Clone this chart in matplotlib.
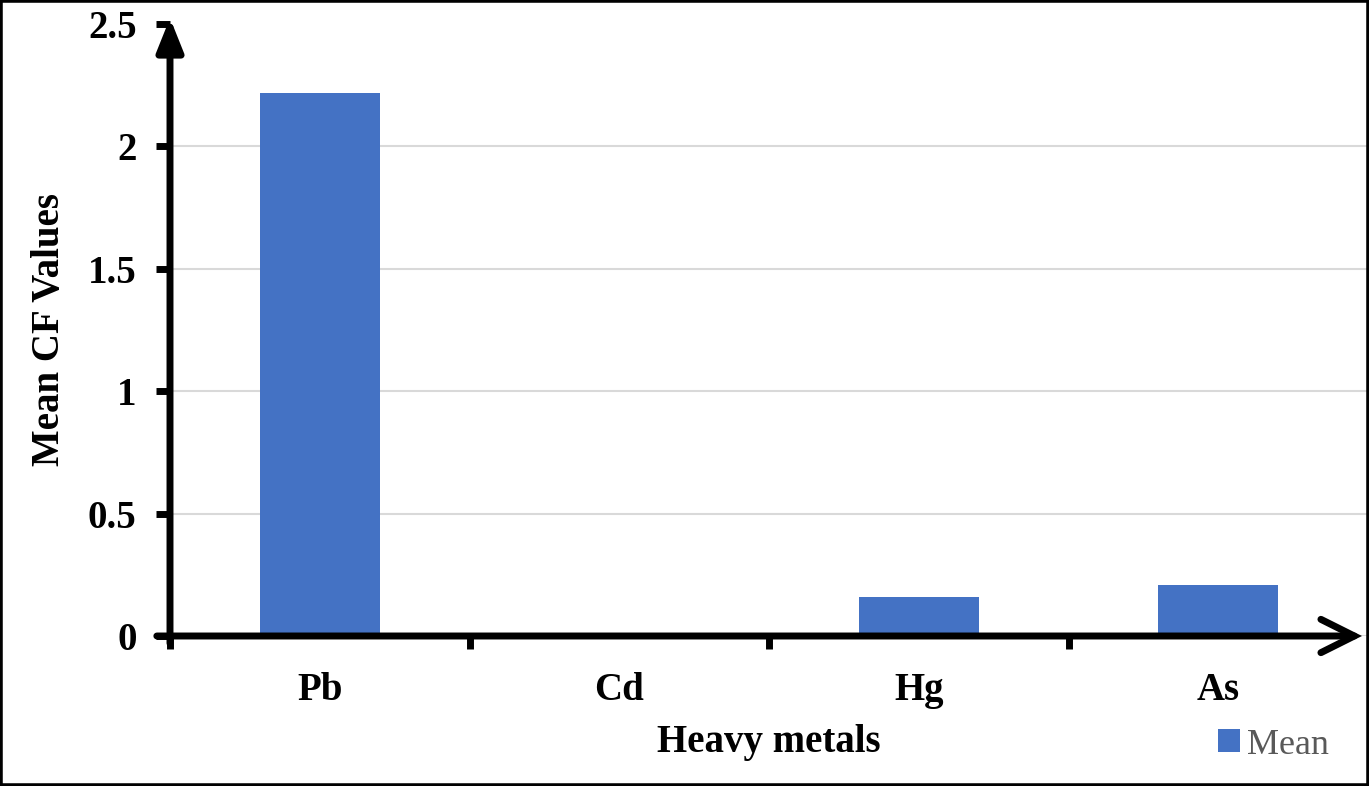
import matplotlib
matplotlib.use("Agg")
import matplotlib.pyplot as plt
from matplotlib.patches import Rectangle

categories = ["Pb", "Cd", "Hg", "As"]
mean_values = [2.22, 0.0, 0.16, 0.21]
y_ticks = [0, 0.5, 1, 1.5, 2, 2.5]
y_tick_labels = ["0", "0.5", "1", "1.5", "2", "2.5"]
series_name = "Mean"

plt.rcParams['font.family'] = ['Liberation Serif', 'DejaVu Serif']

W, H = 1369, 786
fig = plt.figure(figsize=(W / 100, H / 100), dpi=100)
ax = fig.add_axes([170 / W, 1 - 636 / H, (1368 - 170) / W, (636 - 24) / H])

bars = ax.bar(range(len(categories)), mean_values, width=0.4, color="#4472C4", zorder=3, label=series_name)

ax.set_xlim(-0.5, 3.5)
ax.set_ylim(0, 2.5)
ax.set_yticks(y_ticks)
ax.set_yticklabels(y_tick_labels)
ax.yaxis.grid(True, color="#d9d9d9", linewidth=1.5, zorder=0)
ax.set_axisbelow(True)
gl = ax.get_ygridlines()
gl[-1].set_visible(False)

ax.set_xticks(range(len(categories)))
ax.set_xticklabels(categories)
ax.set_xticks([-0.5, 0.5, 1.5, 2.5], minor=True)
ax.tick_params(axis='x', which='major', length=0, pad=26, labelsize=28)
ax.tick_params(axis='x', which='minor', length=9, width=5, direction='out', color='black')
ax.tick_params(axis='y', which='major', length=10, width=5, direction='out', color='black', pad=14, labelsize=28)
for lab in ax.get_xticklabels() + ax.get_yticklabels():
    lab.set_fontweight('bold')

for s in ax.spines.values():
    s.set_visible(False)

# axis lines with arrows
ax.annotate("", xy=(0, 1.0098), xytext=(0, -0.012), xycoords='axes fraction',
            textcoords='axes fraction',
            arrowprops=dict(arrowstyle='-|>,head_length=1.0,head_width=0.4', lw=5, color='black',
                            shrinkA=0, shrinkB=0, mutation_scale=20),
            annotation_clip=False)
ax.annotate("", xy=(0.995, 0), xytext=(-0.011, 0), xycoords='axes fraction',
            textcoords='axes fraction',
            arrowprops=dict(arrowstyle='->,head_length=1.2,head_width=0.6', lw=5, color='black',
                            shrinkA=0, shrinkB=0, mutation_scale=20, joinstyle='miter'),
            annotation_clip=False)

ax.set_xlabel("Heavy metals", fontsize=28, fontweight='bold', labelpad=11)
ax.set_ylabel("Mean CF Values", fontsize=28, fontweight='bold', labelpad=14)

leg = fig.legend(handles=[bars], labels=[series_name], loc='center left',
                 bbox_to_anchor=(1200 / W, 1 - 745 / H), frameon=False,
                 handlelength=0.6, handleheight=0.6, handletextpad=0.2, borderpad=0,
                 prop={'family': 'Liberation Serif', 'size': 26})
for t in leg.get_texts():
    t.set_color("#595959")

fig.patches.append(Rectangle((0, 0), 1, 1, transform=fig.transFigure, fill=False,
                             edgecolor='black', linewidth=4, zorder=10))

fig.savefig("out.png", dpi=100, facecolor='white')
